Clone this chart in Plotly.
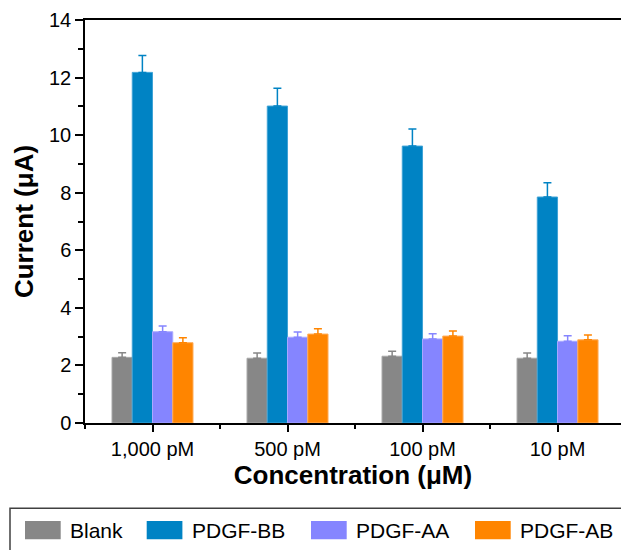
import plotly.graph_objects as go

categories = ["1,000 pM", "500 pM", "100 pM", "10 pM"]
series_names = ["Blank", "PDGF-BB", "PDGF-AA", "PDGF-AB"]
blank = [2.28, 2.25, 2.32, 2.25]
blank_err = [0.16, 0.18, 0.17, 0.18]
pdgf_bb = [12.18, 11.01, 9.62, 7.85]
pdgf_bb_err = [0.59, 0.62, 0.59, 0.50]
pdgf_aa = [3.17, 2.98, 2.92, 2.84]
pdgf_aa_err = [0.20, 0.18, 0.18, 0.19]
pdgf_ab = [2.79, 3.09, 3.02, 2.89]
pdgf_ab_err = [0.17, 0.18, 0.18, 0.17]
y_ticks = [0, 2, 4, 6, 8, 10, 12, 14]

colors = ["#878787", "#0083C4", "#8585FF", "#FF8500"]
edge = ["#a8a8a8", "#3fa3d6", "#a9a9ff", "#ffad5c"]
values = [blank, pdgf_bb, pdgf_aa, pdgf_ab]
errors = [blank_err, pdgf_bb_err, pdgf_aa_err, pdgf_ab_err]

FONT = "Arial, Liberation Sans, sans-serif"
W, H = 621, 550
ML, MR, MT, MB = 85, 0, 20, 127
xpos = list(range(len(categories)))

fig = go.Figure()
for name, vals, errs, c, e in zip(series_names, values, errors, colors, edge):
    fig.add_trace(go.Bar(
        x=xpos, y=vals, name=name, showlegend=False,
        marker=dict(color=c, line=dict(color=e, width=1)),
        error_y=dict(type="data", array=errs, symmetric=False,
                     arrayminus=[0] * len(errs), color=c, thickness=1.5, width=4),
    ))

# custom legend (pixel layout converted to paper coords)
pw, ph = W - ML - MR, H - MT - MB
def px(x):
    return (x - ML) / pw
def py(y):
    return (H - MB - y) / ph

fig.add_shape(type="rect", xref="paper", yref="paper",
              x0=px(10), x1=px(700), y0=py(508.3), y1=py(620),
              line=dict(color="#404040", width=1.5), fillcolor="rgba(0,0,0,0)")
swatch_x = [25, 146.7, 311, 475]
for name, c, sx in zip(series_names, colors, swatch_x):
    fig.add_shape(type="rect", xref="paper", yref="paper",
                  x0=px(sx), x1=px(sx + 35.7), y0=py(539.3), y1=py(521),
                  line=dict(width=0), fillcolor=c)
    fig.add_annotation(xref="paper", yref="paper", x=px(sx + 43), y=py(530.5),
                       text=name, showarrow=False, xanchor="left", yanchor="middle",
                       font=dict(size=21, family=FONT, color="black"))

fig.update_layout(
    width=W, height=H,
    margin=dict(l=ML, r=MR, t=MT, b=MB, autoexpand=False),
    paper_bgcolor="white", plot_bgcolor="white",
    barmode="group", bargap=0.4, bargroupgap=0,
    font=dict(family=FONT, size=20, color="black"),
    showlegend=False,
    xaxis=dict(
        range=[-0.5, 3.47], tickvals=xpos, ticktext=categories,
        showline=True, linecolor="black", linewidth=1.5, mirror=True,
        ticks="outside", ticklen=7, tickwidth=1.5, tickcolor="black",
        minor=dict(tick0=0.5, dtick=1, ticks="outside", ticklen=4,
                   tickwidth=1.5, tickcolor="black"),
        showgrid=False, zeroline=False,
        tickfont=dict(size=20),
        title=dict(text="<b>Concentration (μM)</b>", font=dict(size=26), standoff=6),
    ),
    yaxis=dict(
        range=[0, 14], tickvals=y_ticks,
        showline=True, linecolor="black", linewidth=1.5,
        ticks="outside", ticklen=8, tickwidth=1.5, tickcolor="black",
        minor=dict(dtick=1, ticks="outside", ticklen=5, tickwidth=1.5,
                   tickcolor="black"),
        showgrid=False, zeroline=False,
        tickfont=dict(size=20),
        title=dict(text="<b>Current (μA)</b>", font=dict(size=26), standoff=8),
    ),
)

fig.write_html("out.html", config={"displayModeBar": False},
               post_script="document.body.style.margin='0';")
